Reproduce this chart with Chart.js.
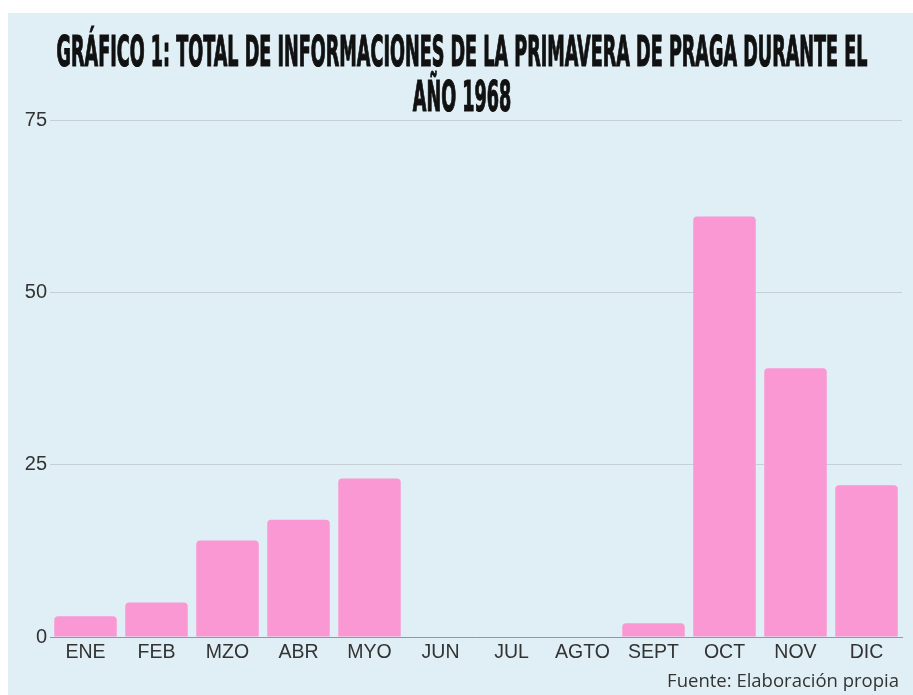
<!DOCTYPE html>
<html lang="es">
<head>
    <meta charset="UTF-8">
    <title>Gráfico 1 - Primavera de Praga</title>
    <script src="https://cdn.jsdelivr.net/npm/chart.js"></script>
    <style>
        html, body { margin: 0; padding: 0; background: #ffffff; }
        #wrap { width: 913px; height: 695px; }
    </style>
</head>
<body>
    <div id="wrap"><canvas id="grafico" width="913" height="695"></canvas></div>

    <script>
        // datos
        const meses = ['ENE', 'FEB', 'MZO', 'ABR', 'MYO', 'JUN', 'JUL', 'AGTO', 'SEPT', 'OCT', 'NOV', 'DIC'];
        const informaciones = [3, 5, 14, 17, 23, 0, 0, 0, 2, 61, 39, 22];
        const ticksY = [0, 25, 50, 75];

        const tituloLineas = ['GRÁFICO 1: TOTAL DE INFORMACIONES DE LA PRIMAVERA DE PRAGA DURANTE EL', 'AÑO 1968'];
        const fuente = 'Fuente: Elaboración propia';

        // fondo, título condensado y fuente
        const decoracion = {
            id: 'decoracion',
            beforeDraw(chart) {
                const ctx = chart.ctx;
                ctx.save();
                ctx.fillStyle = '#ffffff';
                ctx.fillRect(0, 0, chart.width, chart.height);
                ctx.fillStyle = '#dfeff5';
                ctx.fillRect(8, 13, chart.width - 8, chart.height - 13);
                ctx.restore();
            },
            afterDraw(chart) {
                const ctx = chart.ctx;
                ctx.save();
                ctx.fillStyle = '#111111';
                ctx.strokeStyle = '#111111';
                ctx.lineWidth = 1.2;
                ctx.font = 'bold 42px "DejaVu Sans Condensed", "DejaVu Sans", sans-serif';
                ctx.textAlign = 'center';
                ctx.textBaseline = 'alphabetic';
                const ancho = ctx.measureText(tituloLineas[0]).width;
                const escala = 811 / ancho;
                const cx = 462;
                [66, 111].forEach(function(y, i) {
                    ctx.save();
                    ctx.translate(cx, y);
                    ctx.scale(escala, 1);
                    ctx.fillText(tituloLineas[i], 0, 0);
                    ctx.strokeText(tituloLineas[i], 0, 0);
                    ctx.restore();
                });

                ctx.fillStyle = '#333333';
                ctx.font = '18.5px "Open Sans", sans-serif';
                ctx.textAlign = 'right';
                ctx.textBaseline = 'middle';
                ctx.fillText(fuente, 899, 682);
                ctx.restore();
            }
        };

        new Chart(document.getElementById('grafico'), {
            type: 'bar',
            data: {
                labels: meses,
                datasets: [{
                    label: 'Informaciones',
                    data: informaciones,
                    backgroundColor: '#fa98d3',
                    borderWidth: 0,
                    borderRadius: { topLeft: 4, topRight: 4 },
                    borderSkipped: 'bottom',
                    barPercentage: 0.88,
                    categoryPercentage: 1.0
                }]
            },
            options: {
                responsive: false,
                animation: false,
                layout: { padding: { left: 8, right: 11, top: 120, bottom: 0 } },
                plugins: {
                    legend: { display: false },
                    title: { display: false },
                    tooltip: { enabled: false }
                },
                scales: {
                    x: {
                        grid: { display: false, drawTicks: false },
                        border: { display: true, color: '#8f999e', width: 1 },
                        ticks: {
                            color: '#333333',
                            font: { family: '"Liberation Sans", Arial, sans-serif', size: 19.5 },
                            padding: 4,
                            maxRotation: 0,
                            autoSkip: false
                        },
                        afterFit(scale) { scale.height = 58; }
                    },
                    y: {
                        min: ticksY[0],
                        max: ticksY[ticksY.length - 1],
                        afterBuildTicks(scale) {
                            scale.ticks = ticksY.map(function(v) { return { value: v }; });
                        },
                        grid: { color: '#c5d0d5', lineWidth: 1, drawTicks: false },
                        border: { display: false },
                        ticks: {
                            color: '#333333',
                            font: { family: '"Liberation Sans", Arial, sans-serif', size: 20 },
                            padding: 3
                        },
                        afterFit(scale) { scale.width = 42; }
                    }
                }
            },
            plugins: [decoracion]
        });
    </script>
</body>
</html>
